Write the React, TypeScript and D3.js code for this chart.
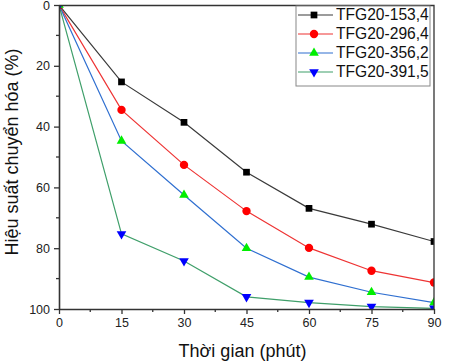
import React, { useRef, useEffect } from 'react';
import * as d3 from 'd3';

const times = [0, 15, 30, 45, 60, 75, 90];
const xTicks = [0, 15, 30, 45, 60, 75, 90];
const yTicks = [0, 20, 40, 60, 80, 100];

const s153 = [0, 25.3, 38.6, 55, 66.9, 72.1, 77.8];
const s296 = [0, 34.5, 52.6, 67.8, 79.9, 87.4, 91.3];
const s356 = [0, 44.7, 62.5, 80, 89.5, 94.5, 97.9];
const s391 = [0, 75.3, 84.2, 96, 97.9, 99.2, 99.8];

const seriesNames = ['TFG20-153,4', 'TFG20-296,4', 'TFG20-356,2', 'TFG20-391,5'];

const App = () => {
  const ref = useRef<HTMLDivElement>(null);

  useEffect(() => {
    const W = 449;
    const H = 364;
    const margin = { top: 5, right: 15, bottom: 55, left: 59 };
    const width = W - margin.left - margin.right;
    const height = H - margin.top - margin.bottom;
    const font = 'Arial, "Liberation Sans", sans-serif';

    d3.select(ref.current).selectAll('*').remove();

    const root = d3
      .select(ref.current)
      .append('svg')
      .attr('width', W)
      .attr('height', H)
      .style('position', 'absolute')
      .style('left', '0px')
      .style('top', '0px')
      .style('font-family', font);

    root.append('rect').attr('width', W).attr('height', H).attr('fill', '#fff');

    const svg = root
      .append('g')
      .attr('transform', `translate(${margin.left}, ${margin.top})`);

    const x = d3.scaleLinear().domain([0, 90]).range([0, width]);
    const y = d3.scaleLinear().domain([0, 100]).range([0, height]);

    svg
      .append('clipPath')
      .attr('id', 'plot-clip')
      .append('rect')
      .attr('width', width)
      .attr('height', height);

    const series = [
      { name: seriesNames[0], values: s153, line: '#3a3a3a', fill: '#000000', sym: d3.symbolSquare, size: 45, rot: 0 },
      { name: seriesNames[1], values: s296, line: '#ee3333', fill: '#ff0000', sym: d3.symbolCircle, size: 55, rot: 0 },
      { name: seriesNames[2], values: s356, line: '#2f6fd0', fill: '#00ee00', sym: d3.symbolTriangle, size: 40, rot: 0 },
      { name: seriesNames[3], values: s391, line: '#3f9f6a', fill: '#0000ff', sym: d3.symbolTriangle, size: 40, rot: 180 },
    ];

    const plot = svg.append('g').attr('clip-path', 'url(#plot-clip)');

    series.forEach((s) => {
      plot
        .append('path')
        .datum(s.values)
        .attr('fill', 'none')
        .attr('stroke', s.line)
        .attr('stroke-width', 1.2)
        .attr(
          'd',
          d3
            .line<number>()
            .x((d, i) => x(times[i]))
            .y((d) => y(d))
        );
    });

    series.forEach((s) => {
      plot
        .selectAll(null)
        .data(s.values)
        .enter()
        .append('path')
        .attr('d', d3.symbol().type(s.sym).size(s.size)())
        .attr('fill', s.fill)
        .attr('transform', (d, i) => `translate(${x(times[i])}, ${y(d)}) rotate(${s.rot})`);
    });

    // frame: top and right
    svg
      .append('path')
      .attr('d', `M0,0.5H${width}V${height}`)
      .attr('fill', 'none')
      .attr('stroke', '#333')
      .attr('stroke-width', 1.3);

    // bottom axis
    const xMinor = d3.range(7.5, 90, 15);
    const xAxis = svg.append('g').attr('transform', `translate(0, ${height})`);
    xAxis
      .call(d3.axisBottom(x).tickValues(xTicks).tickSize(5).tickPadding(4).tickSizeOuter(0))
      .call((g) => g.select('.domain').attr('stroke', '#333').attr('stroke-width', 1.6))
      .call((g) => g.selectAll('.tick line').attr('stroke', '#333').attr('stroke-width', 1.3))
      .call((g) =>
        g.selectAll('text').attr('fill', '#222').attr('font-size', '12.5px').attr('font-family', font)
      );
    xAxis
      .selectAll('.minor')
      .data(xMinor)
      .enter()
      .append('line')
      .attr('x1', (d) => x(d))
      .attr('x2', (d) => x(d))
      .attr('y1', 0)
      .attr('y2', 3)
      .attr('stroke', '#333')
      .attr('stroke-width', 1.3);

    // left axis
    const yMinor = d3.range(10, 100, 20);
    const yAxis = svg.append('g');
    yAxis
      .call(d3.axisLeft(y).tickValues(yTicks).tickSize(5).tickPadding(4).tickSizeOuter(0))
      .call((g) => g.select('.domain').attr('stroke', '#333').attr('stroke-width', 1.6))
      .call((g) => g.selectAll('.tick line').attr('stroke', '#333').attr('stroke-width', 1.3))
      .call((g) =>
        g.selectAll('text').attr('fill', '#222').attr('font-size', '12.5px').attr('font-family', font)
      );
    yAxis
      .selectAll('.minor')
      .data(yMinor)
      .enter()
      .append('line')
      .attr('x1', 0)
      .attr('x2', -3)
      .attr('y1', (d) => y(d))
      .attr('y2', (d) => y(d))
      .attr('stroke', '#333')
      .attr('stroke-width', 1.3);

    // axis titles
    root
      .append('text')
      .attr('x', margin.left + width / 2 - 4)
      .attr('y', 357)
      .attr('text-anchor', 'middle')
      .attr('font-size', '18px')
      .attr('fill', '#111')
      .text('Thời gian (phút)');

    root
      .append('text')
      .attr('transform', 'translate(18, 152) rotate(-90)')
      .attr('text-anchor', 'middle')
      .attr('font-size', '18px')
      .attr('fill', '#111')
      .text('Hiệu suất chuyển hóa (%)');

    // legend
    const lg = root.append('g').attr('transform', 'translate(296, 6)');
    lg.append('rect')
      .attr('width', 134)
      .attr('height', 80)
      .attr('fill', '#fff')
      .attr('stroke', '#888')
      .attr('stroke-width', 1);
    series.forEach((s, i) => {
      const row = lg.append('g').attr('transform', `translate(0, ${9 + i * 19})`);
      row
        .append('line')
        .attr('x1', 2)
        .attr('x2', 37)
        .attr('stroke', s.line)
        .attr('stroke-width', 1.2);
      row
        .append('path')
        .attr('d', d3.symbol().type(s.sym).size(s.size)())
        .attr('fill', s.fill)
        .attr('transform', `translate(18, 0) rotate(${s.rot})`);
      row
        .append('text')
        .attr('x', 40)
        .attr('dy', '0.35em')
        .attr('font-size', '15.6px')
        .attr('fill', '#111')
        .text(s.name);
    });
  }, []);

  return <div ref={ref}></div>;
};

export default App;
